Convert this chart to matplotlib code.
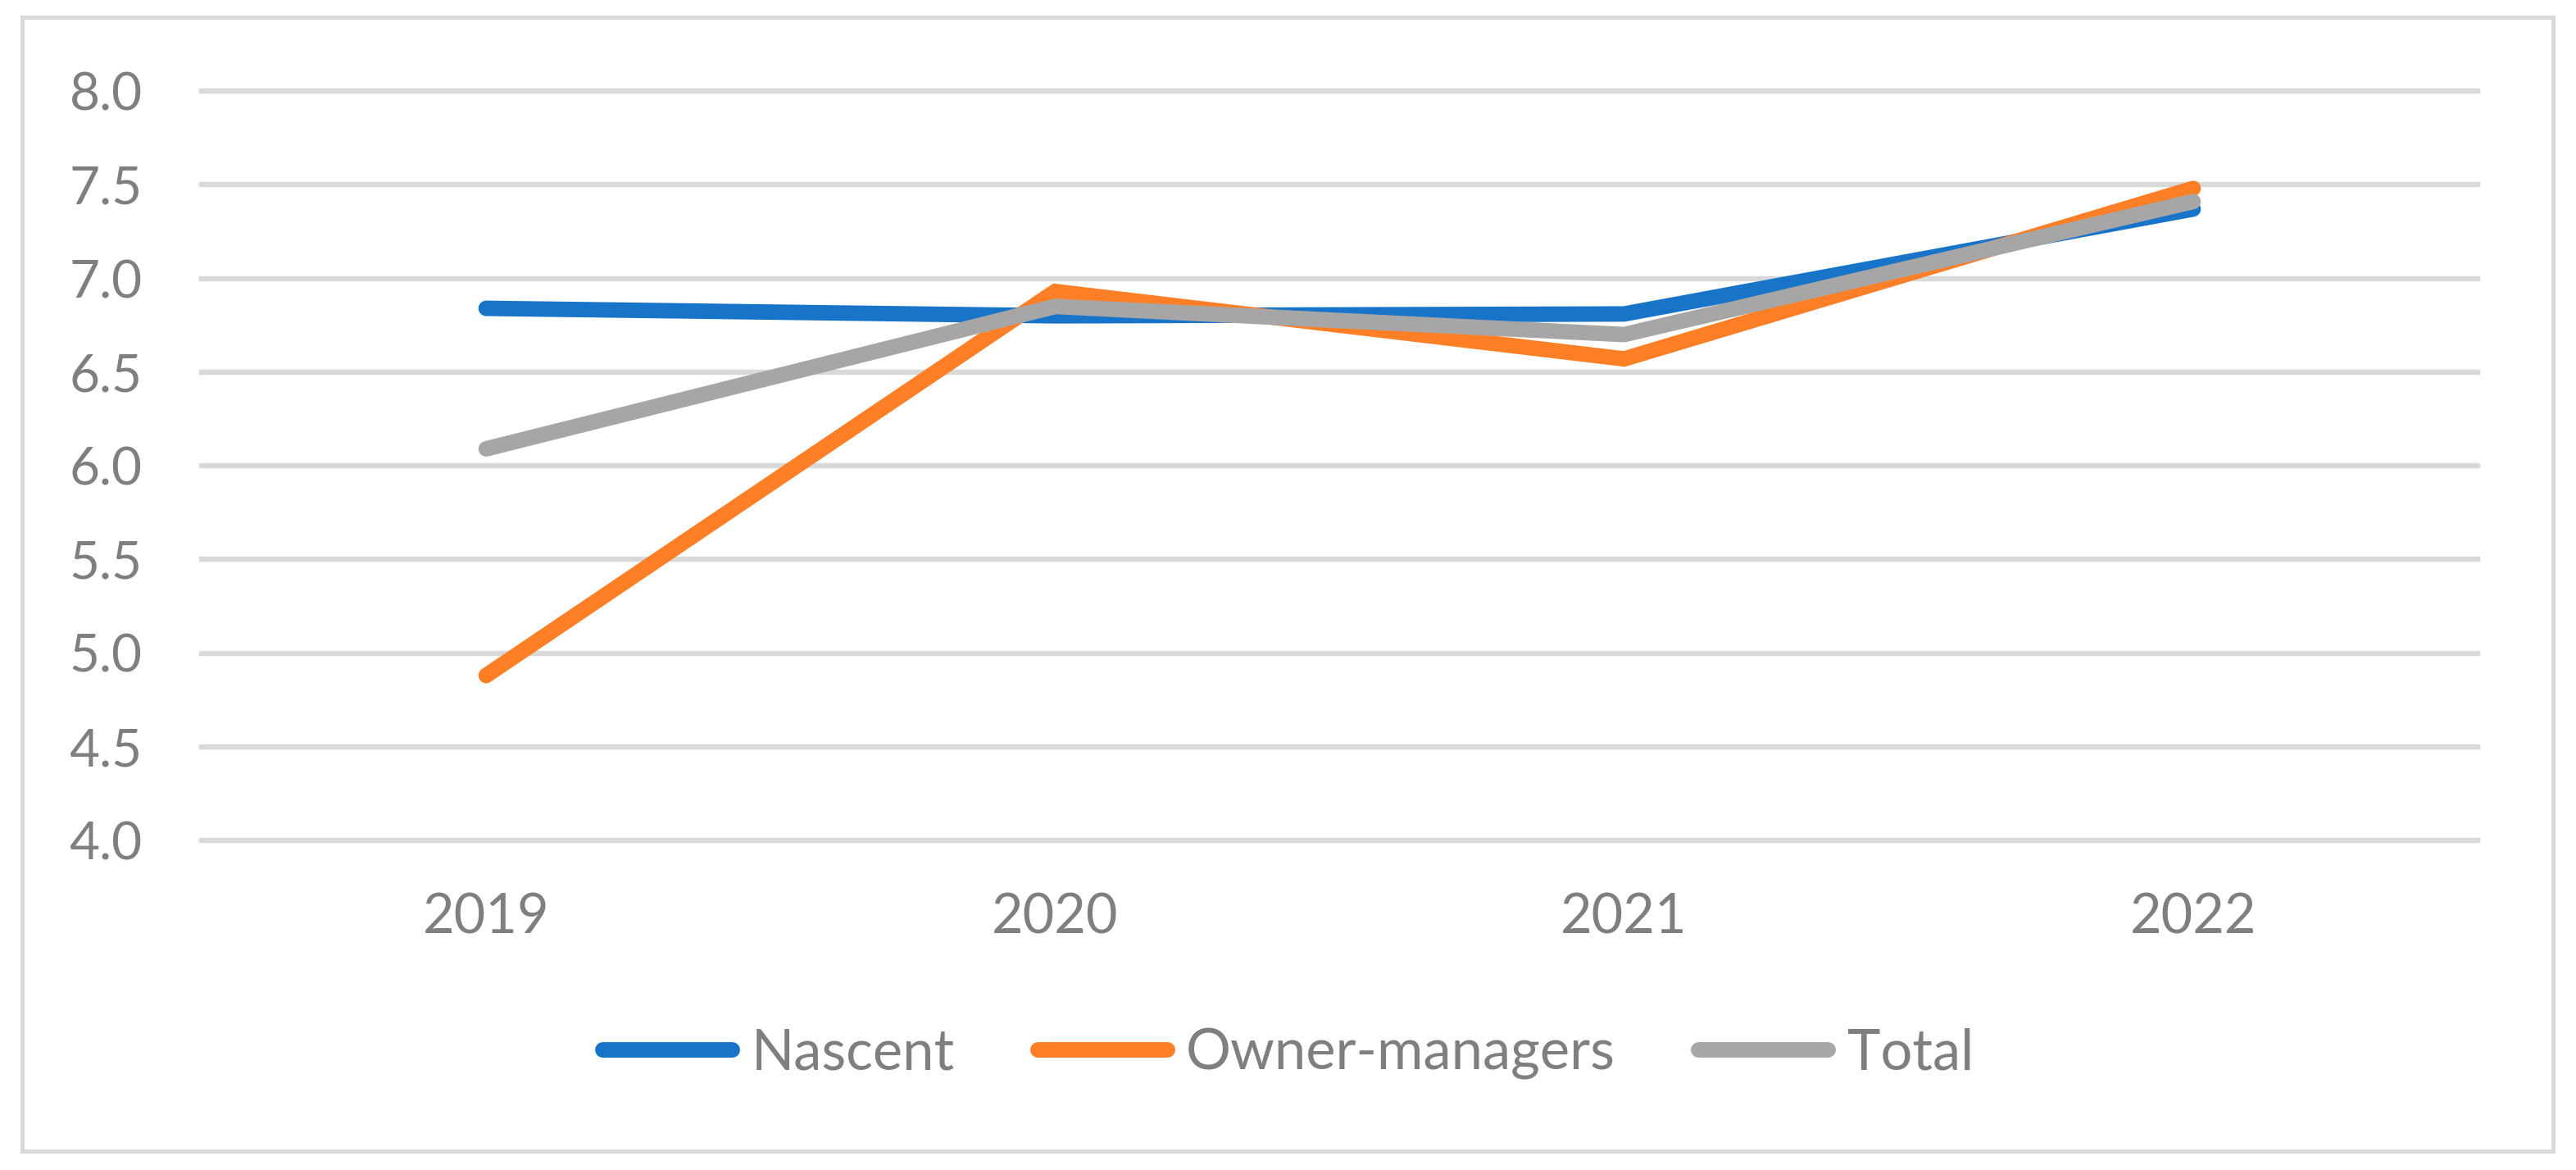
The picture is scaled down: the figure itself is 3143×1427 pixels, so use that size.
import matplotlib
matplotlib.use('Agg')
import matplotlib.pyplot as plt
from matplotlib.patches import Rectangle
from matplotlib.ticker import FormatStrFormatter

years = ['2019', '2020', '2021', '2022']
nascent = [6.84, 6.80, 6.81, 7.37]
owner_managers = [4.88, 6.93, 6.57, 7.48]
total = [6.09, 6.85, 6.70, 7.41]

series_names = ['Nascent', 'Owner-managers', 'Total']
colors = ['#1874C8', '#FF7F27', '#A6A6A6']
text_grey = '#7F7F7F'
grid_grey = '#D9D9D9'

plt.rcParams['font.family'] = ['Lato', 'DejaVu Sans']

dpi = 200
fig = plt.figure(figsize=(3143 / dpi, 1427 / dpi), dpi=dpi)
ax = fig.add_axes([246 / 3143, 1 - 1025 / 1427, (3023 - 246) / 3143, (1025 - 111) / 1427])

x = list(range(len(years)))
for vals, name, col in zip([nascent, owner_managers, total], series_names, colors):
    ax.plot(x, vals, color=col, lw=6.8, label=name,
            solid_capstyle='round', solid_joinstyle='miter', zorder=3)

ax.set_xlim(-0.5, len(years) - 0.5)
ax.set_ylim(4.0, 8.0)
ax.set_yticks([4.0, 4.5, 5.0, 5.5, 6.0, 6.5, 7.0, 7.5, 8.0])
ax.yaxis.set_major_formatter(FormatStrFormatter('%.1f'))
ax.set_xticks(x)
ax.set_xticklabels(years)

ax.grid(axis='y', color=grid_grey, lw=2.3, zorder=0)
ax.set_axisbelow(True)
for gl in ax.get_ygridlines():
    gl.set_clip_on(False)

for s in ax.spines.values():
    s.set_visible(False)
ax.tick_params(axis='both', length=0, colors=text_grey, labelsize=23)
ax.tick_params(axis='y', pad=26)
ax.tick_params(axis='x', pad=23, labelsize=24)

fig.legend(loc='center', bbox_to_anchor=(0.5, 1 - 1285 / 1427), ncol=3,
           frameon=False, fontsize=24.7, labelcolor=text_grey,
           handlelength=2.3, handletextpad=0.34, columnspacing=1.48)

# outer chart border
fig.patches.append(Rectangle((27 / 3143, 1 - 1404 / 1427),
                             (3115 - 27) / 3143, (1404 - 21) / 1427,
                             transform=fig.transFigure, fill=False,
                             edgecolor=grid_grey, lw=1.8))

fig.savefig('out.png', dpi=dpi, facecolor='white')
